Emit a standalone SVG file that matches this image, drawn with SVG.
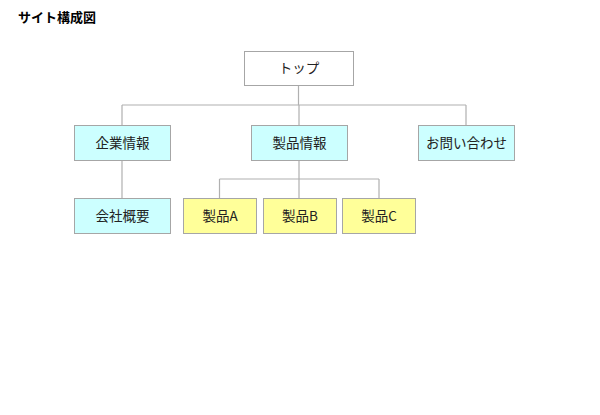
<svg xmlns="http://www.w3.org/2000/svg" width="600" height="415" viewBox="0 0 600 415">
<style>
.box{stroke:#a6a6a6;stroke-width:1}
.w{fill:#ffffff}
.c{fill:#ccffff}
.y{fill:#ffff99}
.t{font-family:"Noto Sans CJK JP","Liberation Sans",sans-serif;font-size:13.5px;fill:#222;text-anchor:middle;dominant-baseline:central}
.ln{stroke:#b0b0b0;stroke-width:1.2;fill:none}
</style>
<rect width="600" height="415" fill="#ffffff"/>
<text x="18" y="16.5" font-family="Noto Sans CJK JP,Liberation Sans,sans-serif" font-size="13" font-weight="bold" fill="#000" dominant-baseline="central">サイト構成図</text>
<g id="connectors">
<path class="ln" d="M298.5 85V105M122 105H466M122 105V125M299 105V125M466 105V125"/>
<path class="ln" d="M122 160V198"/>
<path class="ln" d="M299 160V179M219.5 179H379M219.5 179V198M299 179V198M379 179V198"/>
</g>
<g id="top"><rect class="box w" x="244.5" y="51.5" width="109" height="34"/><text class="t" x="299" y="67">トップ</text></g>
<g id="kigyo"><rect class="box c" x="74.5" y="125.5" width="96" height="35"/><text class="t" x="122.5" y="141.5">企業情報</text></g>
<g id="seihin"><rect class="box c" x="251.5" y="125.5" width="96" height="35"/><text class="t" x="299.5" y="141.5">製品情報</text></g>
<g id="toiawase"><rect class="box c" x="418.5" y="125.5" width="96" height="35"/><text class="t" x="466.5" y="141.5">お問い合わせ</text></g>
<g id="gaiyo"><rect class="box c" x="74.5" y="198.5" width="96" height="35"/><text class="t" x="122.5" y="214.5">会社概要</text></g>
<g id="seihinA"><rect class="box y" x="183.5" y="198.5" width="73" height="35"/><text class="t" x="220" y="214.5">製品A</text></g>
<g id="seihinB"><rect class="box y" x="263.5" y="198.5" width="73" height="35"/><text class="t" x="300" y="214.5">製品B</text></g>
<g id="seihinC"><rect class="box y" x="342.5" y="198.5" width="73" height="35"/><text class="t" x="379" y="214.5">製品C</text></g>
</svg>
